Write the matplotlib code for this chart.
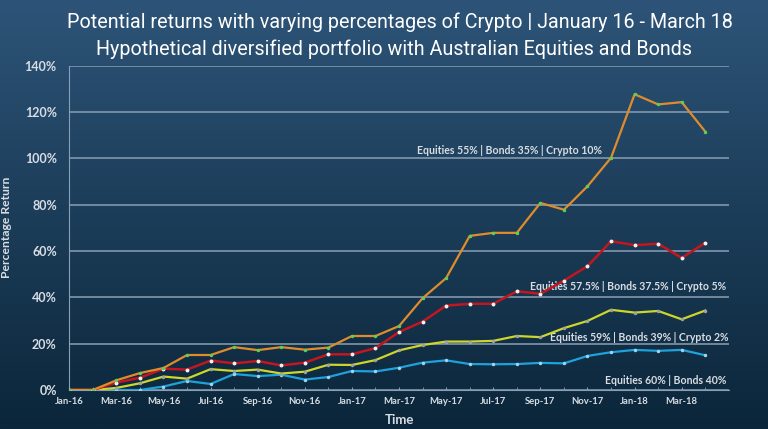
import matplotlib.pyplot as plt
import numpy as np
import pandas as pd

# monthly points Jan-16 .. Apr-18
months = pd.date_range("2016-01-01", "2018-04-01", freq="MS")
tick_labels = ["Jan-16", "Mar-16", "May-16", "Jul-16", "Sep-16", "Nov-16", "Jan-17",
               "Mar-17", "May-17", "Jul-17", "Sep-17", "Nov-17", "Jan-18", "Mar-18"]

crypto10 = [0, 0, 4.2, 7.3, 9.5, 15.1, 15.1, 18.5, 17.2, 18.5, 17.4, 18.3, 23.3, 23.3,
            27.6, 39.6, 48.3, 66.5, 67.8, 67.8, 80.7, 77.8, 87.9, 100.2, 127.6, 123.2, 124.2, 111.5]
crypto5 = [0, 0, 3.2, 5.3, 9.2, 8.8, 12.7, 11.5, 12.5, 10.6, 11.8, 15.4, 15.4, 18.1,
           25.0, 29.5, 36.4, 37.2, 37.2, 42.6, 41.5, 47.2, 53.4, 64.2, 62.5, 63.1, 57.0, 63.5]
crypto2 = [0, 0, 0.9, 2.9, 5.8, 4.9, 9.0, 8.2, 8.8, 7.1, 7.9, 10.9, 10.8, 12.9,
           17.1, 19.4, 20.9, 20.9, 21.2, 23.3, 22.8, 26.7, 29.8, 34.6, 33.4, 34.1, 30.5, 34.3]
no_crypto = [0, 0, 0, 0, 1.5, 3.9, 2.6, 6.9, 6.0, 6.6, 4.5, 5.6, 8.2, 8.0,
             9.6, 11.8, 12.8, 11.2, 11.1, 11.2, 11.7, 11.5, 14.7, 16.3, 17.3, 16.9, 17.3, 15.0]

labels = ["Equities 55% | Bonds 35% | Crypto 10%",
          "Equities 57.5% | Bonds 37.5% | Crypto 5%",
          "Equities 59% | Bonds 39% | Crypto 2%",
          "Equities 60% | Bonds 40%"]

x = np.arange(len(months))

fig = plt.figure(figsize=(7.68, 4.29), dpi=100)

# background gradient
bg = fig.add_axes([0, 0, 1, 1], zorder=-10)
grad = np.linspace(0, 1, 256).reshape(-1, 1)
top = np.array([0x2d, 0x54, 0x78]) / 255
bot = np.array([0x0b, 0x26, 0x3a]) / 255
img = top * (1 - grad[..., None]) + bot * grad[..., None]
bg.imshow(img, aspect="auto", extent=[0, 1, 0, 1])
bg.axis("off")

ax = fig.add_axes([0.0902, 0.0909, 0.8588, 0.7564])
ax.patch.set_alpha(0)

grid_c = "#8a9fb3"
txt_c = "#d8dde3"

ax.plot(x, no_crypto, color="#1ea2dc", lw=1.6, marker="o", ms=2.5, mfc="#9fd4ee", mec="none", zorder=3)
ax.plot(x, crypto2, color="#cfd62a", lw=1.6, marker="o", ms=2.5, mfc="#9aa3a8", mec="none", zorder=4)
ax.plot(x, crypto5, color="#c3161f", lw=1.8, marker="o", ms=2.8, mfc="#f2f2f2", mec="none", zorder=5)
ax.plot(x, crypto10, color="#df8c2c", lw=1.6, marker="o", ms=2.5, mfc="#5ad05a", mec="none", zorder=6)

ax.set_xlim(0, 28)
ax.set_ylim(0, 140)
ax.set_yticks(np.arange(0, 141, 20))
ax.set_yticklabels([f"{v}%" for v in range(0, 141, 20)])
ax.set_xticks(x[::2])
ax.set_xticklabels(tick_labels)
ax.set_xticks(x, minor=True)
ax.yaxis.grid(True, color=grid_c, lw=1.1)
ax.set_axisbelow(True)

for s in ["top", "right"]:
    ax.spines[s].set_visible(False)
ax.spines["left"].set_color(grid_c)
ax.spines["bottom"].set_color(grid_c)

ax.tick_params(axis="y", length=0, pad=9, labelcolor=txt_c, labelsize=9)
ax.tick_params(axis="x", which="major", length=2, direction="in", pad=5, color=grid_c,
               labelcolor=txt_c, labelsize=6.8)
ax.tick_params(axis="x", which="minor", length=2, direction="in", color=grid_c)
for t in ax.get_yticklabels() + ax.get_xticklabels():
    t.set_fontfamily("Lato")
    t.set_fontweight("bold")

ax.set_ylabel("Percentage Return", color=txt_c, fontsize=8.7, fontfamily="Lato",
              fontweight="bold", labelpad=9)
ax.set_xlabel("Time", color=txt_c, fontsize=9.5, fontfamily="Lato", fontweight="bold", labelpad=6)

ann = dict(color=txt_c, fontsize=7.6, fontfamily="Lato", fontweight="bold", ha="right", va="center")
ax.text(22.6, 103.5, labels[0], **ann)
ax.text(27.9, 44.5, labels[1], **ann)
ax.text(28.0, 22.6, labels[2], **ann)
ax.text(27.9, 4.0, labels[3], **ann)

fig.text(0.521, 0.948, "Potential returns with varying percentages of Crypto | January 16 - March 18",
         color="white", fontsize=14.2, fontfamily="Roboto", ha="center", va="center")
fig.text(0.513, 0.885, "Hypothetical diversified portfolio with Australian Equities and Bonds",
         color="white", fontsize=14.2, fontfamily="Roboto", ha="center", va="center")

fig.savefig("out.png", dpi=100)
